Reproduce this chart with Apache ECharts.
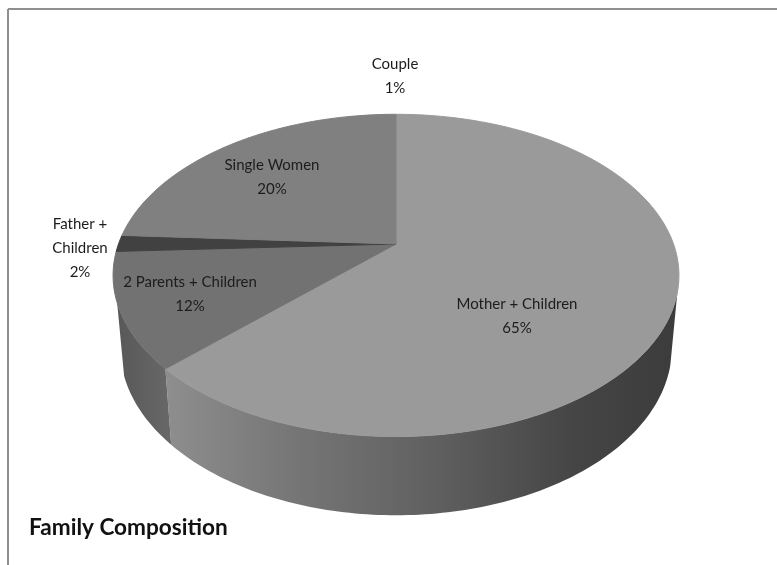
<!DOCTYPE html>
<html><head><meta charset="utf-8">
<style>html,body{margin:0;padding:0;background:#fff}#c{width:777px;height:565px}</style>
<script src="https://cdn.jsdelivr.net/npm/echarts@6/dist/echarts.min.js"></script>
</head><body><div id="c"></div>
<script>
const categories = ['Mother + Children', '2 Parents + Children', 'Father +\nChildren', 'Single Women', 'Couple'];
const shares = [65, 12, 1.6, 20.4, 1];
const topColors = ['#9a9a9a', '#727272', '#414141', '#808080', '#808080'];

// view of the tilted disc
const view = {cx: 396, cy: 244, rx: 277.5, ry: 155, tilt: 0.195, warp: 10 * Math.PI / 180,
  baseShrink: 0.975, baseDrop: 71, baseFlare: 0.04,
  wallFrom: 27, wallTo: 72};
// label anchors (text only)
const labelAt = [[517, 316], [190, 294], [80, 248], [272, 177], [395, 76]];

const total = shares.reduce((a, b) => a + b, 0);
const cum = [0];
shares.forEach((v, i) => cum.push(cum[i] + v));

function rim(share) {
  const a = share / total * 2 * Math.PI;
  const t = a + view.warp * Math.sin(a);
  const x = Math.sin(t), y = -Math.cos(t), w = 1 - view.tilt * y;
  return [view.cx + view.rx * x / w, view.cy + view.ry * y / w];
}
function base(p) {
  return [view.cx + (p[0] - view.cx) * view.baseShrink, p[1] + view.baseDrop + (p[1] - view.cy) * view.baseFlare];
}
function arc(from, to) {
  const n = Math.max(4, Math.ceil((to - from) * 3)), pts = [];
  for (let i = 0; i <= n; i++) pts.push(rim(from + (to - from) * i / n));
  return pts;
}
const wallFill = [
  new echarts.graphic.LinearGradient(0, 0, 1, 0, [
    {offset: 0, color: '#8e8e8e'}, {offset: 0.25, color: '#767676'}, {offset: 0.5, color: '#626262'},
    {offset: 0.8, color: '#454545'}, {offset: 1, color: '#3c3c3c'}]),
  new echarts.graphic.LinearGradient(0, 0, 1, 0, [
    {offset: 0, color: '#585858'}, {offset: 1, color: '#686868'}])
];

const option = {
  backgroundColor: '#fff',
  animation: false,
  graphic: [
    {type: 'line', z: 0, shape: {x1: 8, y1: 9, x2: 777, y2: 9}, style: {stroke: '#8f8f8f', lineWidth: 2}},
    {type: 'line', z: 0, shape: {x1: 8, y1: 9, x2: 8, y2: 565}, style: {stroke: '#8f8f8f', lineWidth: 2}},
    {type: 'text', z: 5, style: {x: 29, y: 528, text: 'Family Composition', fill: '#111',
      font: 'bold 22.6px Lato', textAlign: 'left', textVerticalAlign: 'middle'}}
  ],
  series: [
    { // side wall: only the part of the rim that faces the viewer
      type: 'custom', coordinateSystem: 'none', z: 1, silent: true,
      data: shares.map((v, i) => [i, v]),
      renderItem(params, api) {
        const i = api.value(0);
        const from = Math.max(cum[i], view.wallFrom), to = Math.min(cum[i + 1], view.wallTo);
        if (to <= from) return {type: 'group', children: []};
        const top = arc(from, to);
        const pts = top.concat(top.slice().reverse().map(base));
        return {type: 'polygon', shape: {points: pts}, style: {fill: wallFill[i]}};
      }
    },
    { // top face
      type: 'custom', coordinateSystem: 'none', z: 2, silent: true,
      data: shares.map((v, i) => [i, v]),
      renderItem(params, api) {
        const i = api.value(0);
        const pts = [[view.cx, view.cy]].concat(arc(cum[i], cum[i + 1]));
        return {type: 'polygon', shape: {points: pts},
          style: {fill: topColors[i], stroke: topColors[i], lineWidth: 1, lineJoin: 'bevel'}};
      }
    },
    { // labels
      type: 'custom', coordinateSystem: 'none', z: 3, silent: true,
      data: shares.map((v, i) => [i, v]),
      renderItem(params, api) {
        const i = api.value(0);
        return {type: 'text', style: {x: labelAt[i][0], y: labelAt[i][1],
          text: categories[i] + '\n' + Math.round(api.value(1)) + '%', fill: '#1c1c1c',
          font: '15px Lato', lineHeight: 24, textAlign: 'center', textVerticalAlign: 'middle'}};
      }
    }
  ]
};
echarts.init(document.getElementById('c'), null, {renderer: 'canvas'}).setOption(option);
</script></body></html>
